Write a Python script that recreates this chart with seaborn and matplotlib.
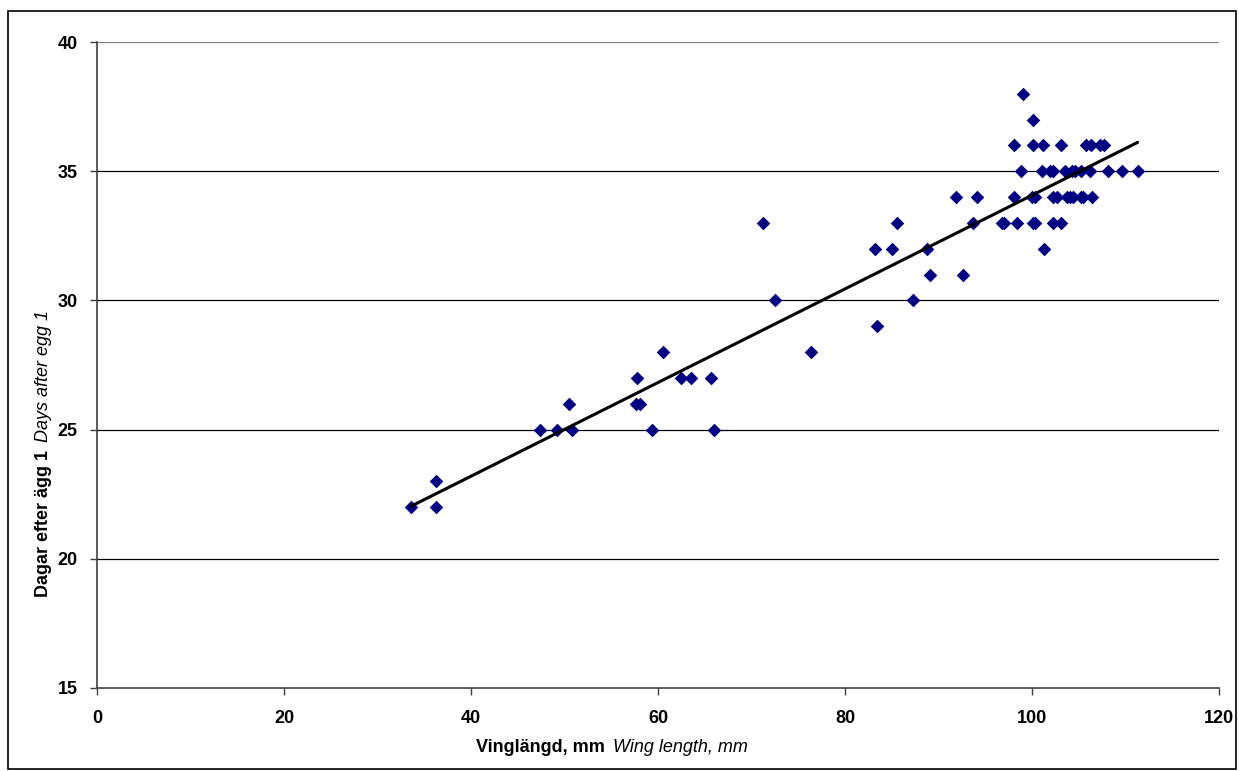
import numpy as np
import pandas as pd
import matplotlib
matplotlib.use("Agg")
import matplotlib.pyplot as plt
import seaborn as sns
from matplotlib.patches import Rectangle

# wing length (mm) and days after egg 1
wing_mm = [
    33.6, 36.3,
    36.3,
    47.4, 49.2, 50.8, 59.4, 66.0,
    50.5, 57.6, 58.1,
    57.8, 62.5, 63.5, 65.7,
    60.5, 76.4,
    83.4,
    72.5, 87.3,
    89.1, 92.6,
    83.2, 85.0, 88.8, 101.3,
    71.2, 85.6, 93.7, 96.8, 97.0, 98.4, 100.1, 100.3, 102.2, 103.1,
    91.9, 94.1, 98.1, 100.0, 100.3, 102.2, 102.7, 103.7, 104.1, 104.4, 105.2, 105.5, 106.4,
    98.8, 101.1, 101.9, 102.2, 103.5, 104.3, 104.6, 105.2, 106.2, 108.1, 109.6, 111.3,
    98.1, 100.1, 101.2, 103.1, 105.8, 106.3, 107.3, 107.7,
    100.1,
    99.0,
]
days = (
    [22] * 2 + [23] * 1 + [25] * 5 + [26] * 3 + [27] * 4 + [28] * 2 + [29] * 1
    + [30] * 2 + [31] * 2 + [32] * 4 + [33] * 10 + [34] * 13 + [35] * 12
    + [36] * 8 + [37] * 1 + [38] * 1
)

x_ticks = [0, 20, 40, 60, 80, 100, 120]
y_ticks = [15, 20, 25, 30, 35, 40]

df = pd.DataFrame({"wing": wing_mm, "days": days})

sns.set_style("white")
plt.rcParams["font.family"] = ["Liberation Sans", "DejaVu Sans"]
plt.rcParams["text.color"] = "black"
plt.rcParams["xtick.color"] = "black"
plt.rcParams["ytick.color"] = "black"

fig = plt.figure(figsize=(12.39, 7.71), dpi=100)
ax = fig.add_axes([97 / 1239, 1 - 688 / 771, (1219 - 97) / 1239, (688 - 42) / 771])

# horizontal gridlines
for yv in y_ticks[1:]:
    ax.axhline(yv, color="#808080" if yv == 40 else "black", linewidth=0.9, zorder=0)

sns.scatterplot(data=df, x="wing", y="days", marker="D", s=48,
                color="#000080", edgecolor="#000080", linewidth=0, ax=ax, zorder=3)
sns.regplot(data=df, x="wing", y="days", scatter=False, ci=None,
            line_kws={"color": "black", "linewidth": 2.2, "zorder": 4}, ax=ax)

ax.set_xlim(0, 120)
ax.set_ylim(15, 40)
ax.set_xticks(x_ticks)
ax.set_yticks(y_ticks)
ax.set_xlabel("")
ax.set_ylabel("")

for s in ["top", "right"]:
    ax.spines[s].set_visible(False)
for s in ["left", "bottom"]:
    ax.spines[s].set_color("#404040")
    ax.spines[s].set_linewidth(1.2)

ax.tick_params(axis="both", direction="out", length=5, width=1, color="#404040",
               labelsize=13, labelcolor="black", bottom=True, left=True)
ax.tick_params(axis="x", pad=11)
ax.tick_params(axis="y", pad=9)
for lab in ax.get_xticklabels() + ax.get_yticklabels():
    lab.set_fontweight("bold")

# axis titles: bold Swedish + italic English
fig.text(605 / 1239, 1 - 748 / 771, "Vinglängd, mm", ha="right", va="center",
         fontsize=13, fontweight="bold")
fig.text(613 / 1239, 1 - 748 / 771, "Wing length, mm", ha="left", va="center",
         fontsize=13, fontstyle="italic")
fig.text(44 / 1239, 1 - 450 / 771, "Dagar efter ägg 1", ha="center", va="top",
         rotation=90, fontsize=13, fontweight="bold")
fig.text(44 / 1239, 1 - 442 / 771, "Days after egg 1", ha="center", va="bottom",
         rotation=90, fontsize=13, fontstyle="italic")

# outer chart border
fig.patches.append(Rectangle((8 / 1239, 2 / 771), 1228 / 1239, 758 / 771,
                             transform=fig.transFigure, fill=False,
                             edgecolor="black", linewidth=1.2))

fig.savefig("out.png", dpi=100)
